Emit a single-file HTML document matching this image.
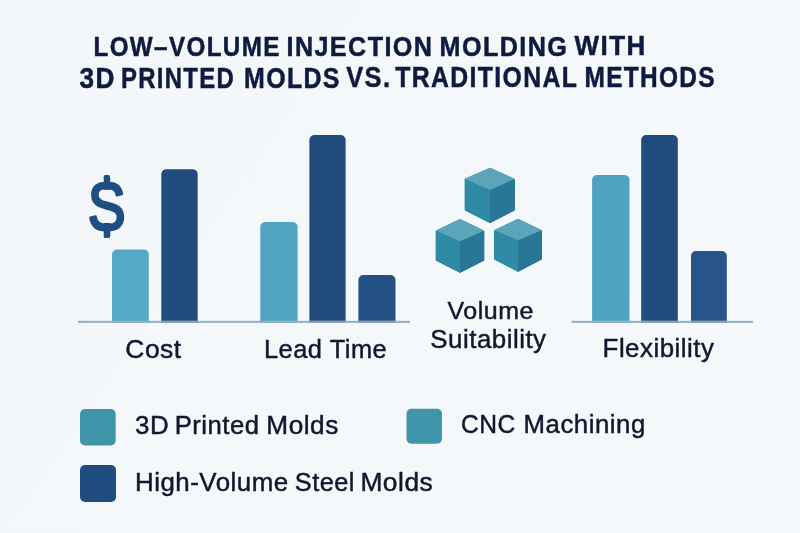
<!DOCTYPE html>
<html lang="en">
<head>
<meta charset="utf-8">
<title>Low-Volume Injection Molding with 3D Printed Molds vs. Traditional Methods</title>
<style>
  html, body { margin: 0; padding: 0; background: #f4f8fb; }
  body { width: 800px; height: 533px; overflow: hidden; }
  svg { display: block; }
  text { font-family: "Liberation Sans", sans-serif; }
  .title, .title2 { font-weight: 700; fill: #0e1a3e; font-size: 28.5px; stroke: #0e1a3e; stroke-width: 0.5px; stroke-linejoin: round; letter-spacing: 1.6px; }
  .title2 { font-size: 29.2px; }
  .label { fill: #10172f; font-size: 26.4px; stroke: #10172f; stroke-width: 0.45px; stroke-linejoin: round; letter-spacing: 0.5px; }
  .legend { fill: #10172f; font-size: 25px; stroke: #10172f; stroke-width: 0.45px; stroke-linejoin: round; letter-spacing: 0.5px; }
</style>
</head>
<body>
<svg width="800" height="533" viewBox="0 0 800 533">
  <defs><linearGradient id="bg" gradientUnits="userSpaceOnUse" x1="0" y1="0" x2="800" y2="533"><stop offset="0" stop-color="#f3f7fa"/><stop offset="1" stop-color="#f6f9fc"/></linearGradient></defs>
  <rect width="800" height="533" fill="url(#bg)"/>

  <!-- Title -->
  <text class="title" id="t1a" x="93.50" y="55.9" textLength="187.28" lengthAdjust="spacingAndGlyphs">LOW–VOLUME</text>
  <text class="title" id="t1b" x="286.50" y="55.8" textLength="146.86" lengthAdjust="spacingAndGlyphs">INJECTION</text>
  <text class="title" id="t1c" x="439.50" y="55.6" textLength="128.87" lengthAdjust="spacingAndGlyphs">MOLDING</text>
  <text class="title" id="t1d" x="574.60" y="55.4" textLength="72.15" lengthAdjust="spacingAndGlyphs">WITH</text>
  <text class="title2" id="t2a" x="79.50" y="87.6" textLength="36.33" lengthAdjust="spacingAndGlyphs">3D</text>
  <text class="title2" id="t2b" x="121.00" y="87.6" textLength="113.96" lengthAdjust="spacingAndGlyphs">PRINTED</text>
  <text class="title2" id="t2c" x="244.00" y="87.5" textLength="96.87" lengthAdjust="spacingAndGlyphs">MOLDS</text>
  <text class="title2" id="t2d" x="346.20" y="87.4" textLength="45.22" lengthAdjust="spacingAndGlyphs">VS.</text>
  <text class="title2" id="t2e" x="395.20" y="87.3" textLength="183.01" lengthAdjust="spacingAndGlyphs">TRADITIONAL</text>
  <text class="title2" id="t2f" x="584.50" y="87.1" textLength="131.45" lengthAdjust="spacingAndGlyphs">METHODS</text>

  <!-- Cost group -->
  <text id="dollar" transform="translate(89.7 230.55) scale(0.615 0.7)" x="0" y="0" style="font-size:100px;font-weight:400" fill="#1f4e82" stroke="#1f4e82" stroke-width="2.6" stroke-linejoin="round" vector-effect="non-scaling-stroke">$</text>
  <polygon points="103.4,189.8 111.0,189.9 111.0,202.5 103.4,200.5" fill="#f4f7fa"/>
  <polygon points="103.4,209.0 111.0,211.1 111.0,223.1 103.4,223.0" fill="#f4f7fa"/>
  <rect x="103.7" y="174.9" width="6.2" height="9" rx="1.6" fill="#1f4e82"/>
  <rect x="103.7" y="229" width="6.2" height="9" rx="1.6" fill="#1f4e82"/>
  <path d="M112,320.9 V254.5 C112,251.75 114.25,249.5 117,249.5 H143.8 C146.55,249.5 148.8,251.75 148.8,254.5 V320.9 Z" fill="#55a9c8"/>
  <path d="M161.3,320.9 V174.2 C161.3,171.45 163.55,169.2 166.3,169.2 H192.7 C195.45,169.2 197.7,171.45 197.7,174.2 V320.9 Z" fill="#1f4c7c"/>

  <!-- Lead time group -->
  <path d="M260.3,320.9 V227 C260.3,224.25 262.55,222 265.3,222 H292.6 C295.35,222 297.6,224.25 297.6,227 V320.9 Z" fill="#50a3c2"/>
  <path d="M309.4,320.9 V140 C309.4,137.25 311.65,135 314.4,135 H340.6 C343.35,135 345.6,137.25 345.6,140 V320.9 Z" fill="#1f4c7c"/>
  <path d="M358.4,320.9 V280 C358.4,277.25 360.65,275 363.4,275 H390.5 C393.25,275 395.5,277.25 395.5,280 V320.9 Z" fill="#255184"/>

  <!-- Flexibility group -->
  <path d="M592.1,320.9 V180 C592.1,177.25 594.35,175 597.1,175 H624.5 C627.25,175 629.5,177.25 629.5,180 V320.9 Z" fill="#50a2c2"/>
  <path d="M641.2,320.9 V140 C641.2,137.25 643.45,135 646.2,135 H672.8 C675.55,135 677.8,137.25 677.8,140 V320.9 Z" fill="#1f4c7c"/>
  <path d="M691,320.9 V256 C691,253.25 693.25,251 696,251 H721.8 C724.55,251 726.8,253.25 726.8,256 V320.9 Z" fill="#28568a"/>

  <!-- baselines -->
  <rect x="78" y="320.8" width="332" height="2.1" fill="#9ab0c0"/>
  <rect x="571.5" y="320.8" width="181.5" height="2.1" fill="#9ab0c0"/>
  <rect x="112" y="320.8" width="36.8" height="2.1" fill="#84b5cb"/>
  <rect x="161.3" y="320.8" width="36.4" height="2.1" fill="#889fb8"/>
  <rect x="260.3" y="320.8" width="37.3" height="2.1" fill="#84b5cb"/>
  <rect x="309.4" y="320.8" width="36.2" height="2.1" fill="#889fb8"/>
  <rect x="358.4" y="320.8" width="37.1" height="2.1" fill="#889fb8"/>
  <rect x="592.1" y="320.8" width="37.4" height="2.1" fill="#84b5cb"/>
  <rect x="641.2" y="320.8" width="36.6" height="2.1" fill="#889fb8"/>
  <rect x="691" y="320.8" width="35.8" height="2.1" fill="#889fb8"/>

  <!-- Cubes -->
  <g id="cubes">
    <mask id="cm1" maskUnits="userSpaceOnUse" x="462.5" y="165.5" width="54.5" height="59"><polygon points="489.98,169.30 513.20,179.77 513.20,209.49 489.98,221.40 466.30,209.49 466.30,179.77" fill="#fff" stroke="#fff" stroke-width="3.6" stroke-linejoin="round"/></mask>
    <g mask="url(#cm1)">
      <polygon points="490,167.5 515,178.7 515,210.5 490,223.2 464.5,210.5 464.5,178.7" fill="#2d809e"/>
      <polygon points="464.5,178.7 490,190 490,223.2 464.5,210.5" fill="#2f8aa5"/>
      <polygon points="515,178.7 490,190 490,223.2 515,210.5" fill="#2a7697"/>
      <polygon points="490,167.5 515,178.7 490,190 464.5,178.7" fill="#5ba5b8"/>
    </g>
    <mask id="cm2" maskUnits="userSpaceOnUse" x="433.5" y="216.7" width="53" height="58.3"><polygon points="460.00,220.50 482.70,231.52 482.70,259.53 460.00,271.20 437.30,259.53 437.30,231.52" fill="#fff" stroke="#fff" stroke-width="3.6" stroke-linejoin="round"/></mask>
    <g mask="url(#cm2)">
      <polygon points="460,218.7 484.5,230.5 484.5,260.5 460,273 435.5,260.5 435.5,230.5" fill="#2d809e"/>
      <polygon points="435.5,230.5 460,241.3 460,273 435.5,260.5" fill="#2f8aa5"/>
      <polygon points="484.5,230.5 460,241.3 460,273 484.5,260.5" fill="#2a7697"/>
      <polygon points="460,218.7 484.5,230.5 460,241.3 435.5,230.5" fill="#5ba5b8"/>
    </g>
    <mask id="cm3" maskUnits="userSpaceOnUse" x="492" y="216.7" width="52" height="57.3"><polygon points="518.00,220.50 540.20,231.04 540.20,258.54 518.00,270.20 495.80,258.54 495.80,231.04" fill="#fff" stroke="#fff" stroke-width="3.6" stroke-linejoin="round"/></mask>
    <g mask="url(#cm3)">
      <polygon points="518,218.7 542,230 542,259.5 518,272 494,259.5 494,230" fill="#2d809e"/>
      <polygon points="494,230 518,240.3 518,272 494,259.5" fill="#2f8aa5"/>
      <polygon points="542,230 518,240.3 518,272 542,259.5" fill="#2a7697"/>
      <polygon points="518,218.7 542,230 518,240.3 494,230" fill="#5ba5b8"/>
    </g>
  </g>

  <!-- Category labels -->
  <text class="label" id="l1" x="125.35" y="358" textLength="56.31" lengthAdjust="spacingAndGlyphs">Cost</text>
  <text class="label" id="l2a" x="263.95" y="357.6" textLength="58.55" lengthAdjust="spacingAndGlyphs">Lead</text>
  <text class="label" id="l2b" x="329.75" y="357.6" textLength="57.40" lengthAdjust="spacingAndGlyphs">Time</text>
  <text class="label" id="l3" x="447.50" y="318.9" style="font-size:24.8px" textLength="86.50" lengthAdjust="spacingAndGlyphs">Volume</text>
  <text class="label" id="l4" x="430.30" y="347.6" style="font-size:26.2px" textLength="116.25" lengthAdjust="spacingAndGlyphs">Suitability</text>
  <text class="label" id="l5" x="602.60" y="356.9" textLength="111.71" lengthAdjust="spacingAndGlyphs">Flexibility</text>

  <!-- Legend -->
  <rect x="80" y="409" width="35.7" height="36.5" rx="5" fill="#4095aa"/>
  <rect x="80" y="465" width="36" height="37" rx="5" fill="#204d80"/>
  <rect x="406.5" y="408.8" width="35.5" height="35" rx="5" fill="#4095aa"/>
  <text class="legend" id="g1a" x="135.05" y="434" textLength="34.19" lengthAdjust="spacingAndGlyphs">3D</text>
  <text class="legend" id="g1b" x="174.65" y="434" textLength="84.92" lengthAdjust="spacingAndGlyphs">Printed</text>
  <text class="legend" id="g1c" x="266.35" y="434" textLength="72.47" lengthAdjust="spacingAndGlyphs">Molds</text>
  <text class="legend" id="g3a" x="461.00" y="433.2" textLength="54.82" lengthAdjust="spacingAndGlyphs">CNC</text>
  <text class="legend" id="g3b" x="523.60" y="433.2" textLength="122.18" lengthAdjust="spacingAndGlyphs">Machining</text>
  <text class="legend" id="g2a" x="135.00" y="490.8" textLength="153.73" lengthAdjust="spacingAndGlyphs">High-Volume</text>
  <text class="legend" id="g2b" x="294.80" y="490.8" textLength="60.15" lengthAdjust="spacingAndGlyphs">Steel</text>
  <text class="legend" id="g2c" x="360.40" y="490.8" textLength="72.87" lengthAdjust="spacingAndGlyphs">Molds</text>
</svg>
</body>
</html>
